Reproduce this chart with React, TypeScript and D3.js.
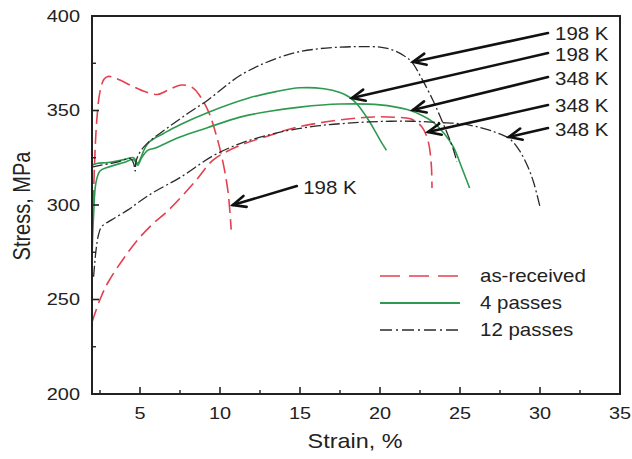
import React from "react";
import * as d3 from "d3";

// ---- data (strain %, stress MPa) ----
const asReceived198: [number, number][] = [
  [2.05, 290], [2.15, 320], [2.3, 345], [2.5, 360], [2.75, 366.5], [3.0, 368], [3.5, 367],
  [4.5, 363], [5.3, 360], [6.1, 358.5], [6.8, 361], [7.6, 363.5], [8.3, 362], [8.8, 357],
  [9.3, 349], [9.8, 336], [10.2, 322], [10.5, 307], [10.7, 287],
];
const asReceived348: [number, number][] = [
  [2.0, 238], [2.5, 250], [3.0, 259], [4.0, 272], [4.9, 282], [5.8, 290], [6.75, 297],
  [8.4, 312], [9.6, 324], [11.25, 331.5], [13, 336.5], [14.5, 340.5], [16.25, 343.5],
  [18, 345.5], [19.6, 346.6], [21, 346.4], [21.9, 345.6], [22.6, 341.5], [23.0, 334],
  [23.2, 322], [23.25, 309],
];
const passes4_198: [number, number][] = [
  [2.0, 321], [2.3, 322], [3.0, 322.5], [4.0, 324], [4.6, 325], [4.85, 322], [5.0, 324],
  [5.3, 330], [5.6, 333.5], [6.5, 338], [7.5, 342.5], [9.25, 349], [11.75, 356.5],
  [13.5, 360], [15, 362], [16.5, 361.5], [17.5, 359.5], [18.1, 357], [18.6, 353],
  [19.2, 346], [19.7, 339], [20.1, 333], [20.4, 329],
];
const passes4_348: [number, number][] = [
  [2.0, 272], [2.1, 295], [2.25, 312], [2.5, 318], [3.0, 320], [4.0, 322.5], [4.6, 324],
  [4.85, 321], [5.1, 325], [5.5, 329], [5.9, 330], [7.5, 336], [9.25, 341], [11.25, 346.5],
  [13, 349.5], [15, 351.8], [17.5, 353.4], [20, 353], [21.7, 350.5], [22.6, 347.5],
  [23.3, 344], [24.0, 338], [24.6, 330.5], [25.1, 320], [25.6, 309],
];
const passes12_198: [number, number][] = [
  [2.0, 320], [2.5, 321], [3.5, 322.5], [4.4, 324.5], [4.6, 322], [4.7, 318], [4.75, 323],
  [5.0, 328], [5.5, 333], [6.75, 341], [8, 348.5], [9.25, 355.6], [10.5, 364], [11.25, 368.5],
  [12.5, 374], [14.4, 380], [16, 382.5], [17.5, 383.5], [18.75, 383.8], [20, 383.5],
  [20.8, 382], [21.5, 379], [22.0, 375.5], [22.6, 367], [23.3, 355.6], [23.8, 346],
  [24.2, 338], [24.6, 329], [24.8, 323],
];
const passes12_348: [number, number][] = [
  [2.1, 262], [2.25, 276], [2.4, 284], [2.6, 288.5], [3.2, 292], [4.25, 297.4], [5.0, 302],
  [5.9, 307], [7.5, 314.5], [9.56, 326], [11.25, 332.5], [13, 337], [14.5, 339.8],
  [16.25, 342], [18, 343.3], [20, 344.2], [22, 344.3], [23.75, 343.6], [25, 343],
  [26.25, 341], [27.2, 338.5], [28.1, 335], [28.7, 329], [29.2, 321], [29.6, 312], [30.0, 299],
];

const xTicks = [5, 10, 15, 20, 25, 30, 35];
const xMinorTicks = [2.5, 7.5, 12.5, 17.5, 22.5, 27.5, 32.5];
const yTicks = [200, 250, 300, 350, 400];
const yMinorTicks = [225, 275, 325, 375];

const legendLabels = ["as-received", "4 passes", "12 passes"];

const arrowLabels = ["198 K", "198 K", "348 K", "348 K", "348 K", "198 K"];
const arrowTailX = [30.5, 30.5, 30.5, 30.5, 30.5, 14.8];
const arrowTailY = [391, 380.4, 367.7, 352.9, 340.7, 310];
const arrowHeadX = [22.06, 18.25, 22.06, 23.0, 28.06, 10.8];
const arrowHeadY = [375.7, 356.6, 350.3, 338.6, 336, 300];
const arrowLabelX = [30.94, 30.94, 30.94, 30.94, 30.94, 15.2];

// ---- styles ----
const RED = "#e4404f";
const GREEN = "#2e9a50";
const BLACK = "#2a2a2a";
const FONT = "Arial, 'Liberation Sans', Helvetica, sans-serif";
const SX = 1.17;

const W = 632;
const H = 459;
const x = d3.scaleLinear().domain([2, 35]).range([92, 620]);
const y = d3.scaleLinear().domain([200, 400]).range([394, 16]);

const line = d3
  .line<[number, number]>()
  .x((d) => x(d[0]))
  .y((d) => y(d[1]))
  .curve(d3.curveCatmullRom.alpha(0.5));

function T({ tx, ty, size, anchor = "start", children, rot = false }: any) {
  const transform = rot
    ? `translate(${tx},${ty}) rotate(-90) scale(1,${SX})`
    : `translate(${tx},${ty}) scale(${SX},1)`;
  return (
    <text
      transform={transform}
      fontSize={size}
      fontFamily={FONT}
      textAnchor={anchor}
      dominantBaseline="central"
      fill="#222"
    >
      {children}
    </text>
  );
}

function Arrow({ x1, y1, x2, y2 }: any) {
  const ang = Math.atan2(y1 - y2, x1 - x2);
  const L = 14;
  const a = 0.42;
  const p1 = [x2 + L * Math.cos(ang + a), y2 + L * Math.sin(ang + a)];
  const p2 = [x2 + L * Math.cos(ang - a), y2 + L * Math.sin(ang - a)];
  return (
    <g stroke="#111" strokeWidth={2.6} fill="none" strokeLinecap="round">
      <line x1={x1} y1={y1} x2={x2} y2={y2} />
      <polyline points={`${p1[0]},${p1[1]} ${x2},${y2} ${p2[0]},${p2[1]}`} />
    </g>
  );
}

export default function App() {
  const series = [
    { data: asReceived198, color: RED, dash: "14,6", w: 1.6 },
    { data: asReceived348, color: RED, dash: "14,6", w: 1.6 },
    { data: passes4_198, color: GREEN, dash: "none", w: 1.6 },
    { data: passes4_348, color: GREEN, dash: "none", w: 1.6 },
    { data: passes12_198, color: BLACK, dash: "11,3,2,3", w: 1.3 },
    { data: passes12_348, color: BLACK, dash: "11,3,2,3", w: 1.3 },
  ];
  const legendStyles = [
    { color: RED, dash: "20,9", w: 1.6 },
    { color: GREEN, dash: "none", w: 2 },
    { color: BLACK, dash: "12,4,2,4", w: 1.4 },
  ];
  const legendY = [276, 303, 330];
  const [x0, x1] = x.range();
  const [y0, y1] = y.range();
  return (
    <svg
      width={W}
      height={H}
      style={{ position: "absolute", left: 0, top: 0, background: "#fff" }}
    >
      {series.map((s, i) => (
        <path
          key={i}
          d={line(s.data) || ""}
          fill="none"
          stroke={s.color}
          strokeWidth={s.w}
          strokeDasharray={s.dash}
        />
      ))}
      {/* frame */}
      <rect x={x0} y={y1} width={x1 - x0} height={y0 - y1} fill="none" stroke="#222" strokeWidth={2} />
      {/* ticks */}
      {xTicks.map((t) => (
        <g key={"x" + t}>
          <line x1={x(t)} x2={x(t)} y1={y0} y2={y0 - 7} stroke="#222" strokeWidth={1.6} />
          <T tx={x(t)} ty={413} size={17} anchor="middle">{t}</T>
        </g>
      ))}
      {xMinorTicks.map((t) => (
        <line key={"xm" + t} x1={x(t)} x2={x(t)} y1={y0} y2={y0 - 4} stroke="#222" strokeWidth={1.4} />
      ))}
      {yTicks.map((t) => (
        <g key={"y" + t}>
          <line x1={x0} x2={x0 + 7} y1={y(t)} y2={y(t)} stroke="#222" strokeWidth={1.6} />
          <T tx={80} ty={y(t)} size={17} anchor="end">{t}</T>
        </g>
      ))}
      {yMinorTicks.map((t) => (
        <line key={"ym" + t} x1={x0} x2={x0 + 4} y1={y(t)} y2={y(t)} stroke="#222" strokeWidth={1.4} />
      ))}
      {/* axis titles */}
      <T tx={355} ty={441} size={20} anchor="middle">Strain, %</T>
      <T tx={22} ty={206} size={20} anchor="middle" rot>Stress, MPa</T>
      {/* legend */}
      {legendLabels.map((l, i) => (
        <g key={l}>
          <line
            x1={380}
            x2={460}
            y1={legendY[i]}
            y2={legendY[i]}
            stroke={legendStyles[i].color}
            strokeWidth={legendStyles[i].w}
            strokeDasharray={legendStyles[i].dash}
          />
          <T tx={480} ty={legendY[i]} size={17.5}>{l}</T>
        </g>
      ))}
      {/* annotations */}
      {arrowLabels.map((l, i) => (
        <g key={"a" + i}>
          <Arrow x1={x(arrowTailX[i])} y1={y(arrowTailY[i])} x2={x(arrowHeadX[i])} y2={y(arrowHeadY[i])} />
          <T tx={x(arrowLabelX[i])} ty={y(arrowTailY[i]) + 1.5} size={17.5}>{l}</T>
        </g>
      ))}
    </svg>
  );
}
